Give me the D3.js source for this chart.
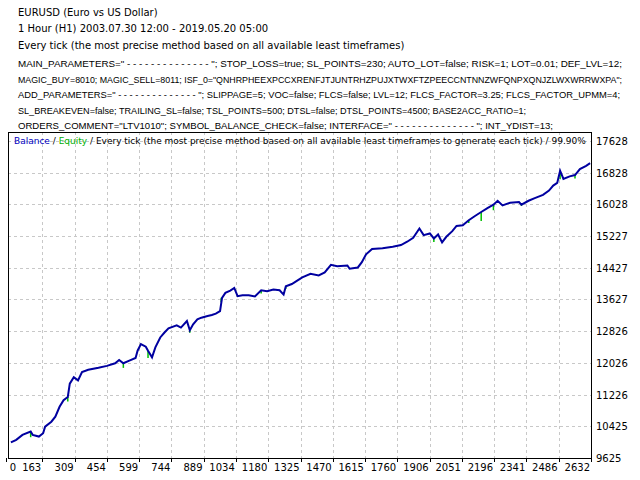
<!DOCTYPE html>
<html><head><meta charset="utf-8">
<script src="https://cdn.jsdelivr.net/npm/d3@7"></script>
<style>body{margin:0;background:#fff}text{font-family:"DejaVu Sans",sans-serif;font-size:10px;fill:#000}</style>
</head><body>
<script>
// header lines
const headerLines = [
  "EURUSD (Euro vs US Dollar)",
  "1 Hour (H1) 2003.07.30 12:00 - 2019.05.20 05:00",
  "Every tick (the most precise method based on all available least timeframes)"
];
const paramLines = [
  "MAIN_PARAMETERS=\" - - - - - - - - - - - - - - \"; STOP_LOSS=true; SL_POINTS=230; AUTO_LOT=false; RISK=1; LOT=0.01; DEF_LVL=12;",
  "MAGIC_BUY=8010; MAGIC_SELL=8011; ISF_0=\"QNHRPHEEXPCCXRENFJTJUNTRHZPUJXTWXFTZPEECCNTNNZWFQNPXQNJZLWXWRRWXPA\";",
  "ADD_PARAMETERS=\" - - - - - - - - - - - - - - \"; SLIPPAGE=5; VOC=false; FLCS=false; LVL=12; FLCS_FACTOR=3.25; FLCS_FACTOR_UPMM=4;",
  "SL_BREAKEVEN=false; TRAILING_SL=false; TSL_POINTS=500; DTSL=false; DTSL_POINTS=4500; BASE2ACC_RATIO=1;",
  "ORDERS_COMMENT=\"LTV1010\"; SYMBOL_BALANCE_CHECK=false; INTERFACE=\" - - - - - - - - - - - - - - \"; INT_YDIST=13;"
];
const paramWidths = [604, 604, 602, 508, 535];
const paramSizes = [9.8, 8.9, 9.2, 9.8, 9.8];

const xTicks = [0,163,309,454,599,744,889,1034,1180,1325,1470,1615,1760,1906,2051,2196,2341,2486,2632];
const yTicks = [9625,10425,11226,12026,12826,13627,14427,15227,16028,16828,17628];

// balance curve (trade index, balance)
const tradeIdx = [22,46,74,111,120,148,167,176,204,222,241,259,278,287,305,324,342,370,416,454,491,509,528,555,583,592,607,629,639,657,672,694,713,731,768,787,814,827,842,861,879,907,926,944,963,972,987,1009,1027,1042,1064,1092,1120,1148,1175,1203,1231,1249,1259,1286,1305,1333,1370,1407,1434,1462,1490,1536,1546,1583,1601,1620,1647,1694,1740,1777,1805,1832,1860,1879,1907,1925,1944,1962,1981,2008,2027,2055,2082,2110,2138,2166,2193,2212,2234,2268,2308,2319,2351,2379,2416,2443,2462,2480,2493,2508,2536,2560,2582,2610,2628];
const balance = [10017,10083,10209,10292,10209,10167,10250,10417,10542,10667,10917,11084,11167,11501,11667,11584,11792,11851,11901,11951,12017,12101,12017,12084,12151,12334,12501,12434,12334,12167,12418,12668,12793,12901,12976,12918,13084,12851,13001,13126,13168,13209,13234,13268,13335,13668,13793,13851,13918,13710,13735,13735,13702,13860,13835,13876,13860,13751,13960,14018,14085,14185,14276,14235,14310,14502,14468,14485,14402,14435,14568,14768,14902,14918,14960,15002,15085,15185,15419,15252,15293,15168,15268,15068,15210,15352,15485,15502,15627,15735,15835,15935,16019,16119,16002,16069,16085,16019,16119,16185,16269,16377,16502,16569,16877,16669,16736,16769,16919,17002,17069];
// equity dips (trade index, equity)
const equityDipIdx = [111,278,528,639,827,968,1148,1259,1925,2082,2138,2193,2319,2493,2560];
const equityDipVal = [10150,11050,11900,12150,12790,13560,13780,13900,15080,15560,15610,15880,15990,16660,16680];

const W = 640, H = 480;
const svg = d3.select("body").append("svg").attr("width", W).attr("height", H);

const hy = [16, 32, 49];
headerLines.forEach((t, i) => svg.append("text").attr("x", 18).attr("y", hy[i]).text(t));
paramLines.forEach((t, i) => svg.append("text").attr("x", 18).attr("y", 67 + i * 15.5)
  .style("font-family", "'Liberation Sans', sans-serif").style("font-size", paramSizes[i] + "px")
  .attr("textLength", paramWidths[i]).attr("lengthAdjust", "spacingAndGlyphs").text(t));

const L = 8, R = 591, T = 132, B = 458;
const x = d3.scaleLinear().domain([0, 2632]).range([6, R]);
const y = d3.scaleLinear().domain([9625, 17628]).range([B, 141]);

const g = svg.append("g");
g.selectAll(".gx").data(xTicks.slice(1, -1)).join("line")
  .attr("x1", d => Math.round(x(d)) + 0.5).attr("x2", d => Math.round(x(d)) + 0.5)
  .attr("y1", T).attr("y2", B).attr("stroke", "#c8c8c8").attr("stroke-dasharray", "3,3");
g.selectAll(".gy").data(yTicks.slice(1)).join("line")
  .attr("y1", d => Math.round(y(d)) + 0.5).attr("y2", d => Math.round(y(d)) + 0.5)
  .attr("x1", L).attr("x2", R).attr("stroke", "#c8c8c8").attr("stroke-dasharray", "3,3");

// equity spikes
g.selectAll(".eq").data(equityDipIdx).join("line")
  .attr("x1", d => x(d)).attr("x2", d => x(d))
  .attr("y1", d => y(balance[d3.bisectLeft(tradeIdx, d)] || balance[balance.length - 1]))
  .attr("y2", (d, i) => y(equityDipVal[i]))
  .attr("stroke", "#00c000").attr("stroke-width", 1.5);

const line = d3.line().x(d => x(d[0])).y(d => y(d[1]));
const pts = tradeIdx.map((d, i) => [d, balance[i]]);
g.append("path").attr("d", line(pts)).attr("fill", "none")
  .attr("stroke", "#0000a0").attr("stroke-width", 2);

svg.append("rect").attr("x", L + 0.5).attr("y", T + 0.5).attr("width", R - L).attr("height", B - T)
  .attr("fill", "none").attr("stroke", "#000");

// axis labels
svg.selectAll(".yl").data(yTicks).join("text")
  .attr("x", 596).attr("y", d => Math.max(y(d) + 4, 145)).text(d => d);
svg.selectAll(".xl").data(xTicks).join("text")
  .attr("x", d => d === 0 ? 13 : x(d) - 1).attr("y", 471)
  .attr("text-anchor", d => d === 0 ? "middle" : "end").text(d => d);
svg.selectAll(".xt").data(xTicks).join("line")
  .attr("x1", d => Math.round(x(d)) + 0.5).attr("x2", d => Math.round(x(d)) + 0.5)
  .attr("y1", B).attr("y2", B + 4).attr("stroke", "#000");

const title = svg.append("text").attr("x", 14).attr("y", 144).style("font-size", "9px");
title.append("tspan").style("fill", "#0000c0").text("Balance");
title.append("tspan").text(" / ");
title.append("tspan").style("fill", "#00b000").text("Equity");
title.append("tspan").text(" / Every tick (the most precise method based on all available least timeframes to generate each tick) / 99.90%");
</script>
</body></html>
